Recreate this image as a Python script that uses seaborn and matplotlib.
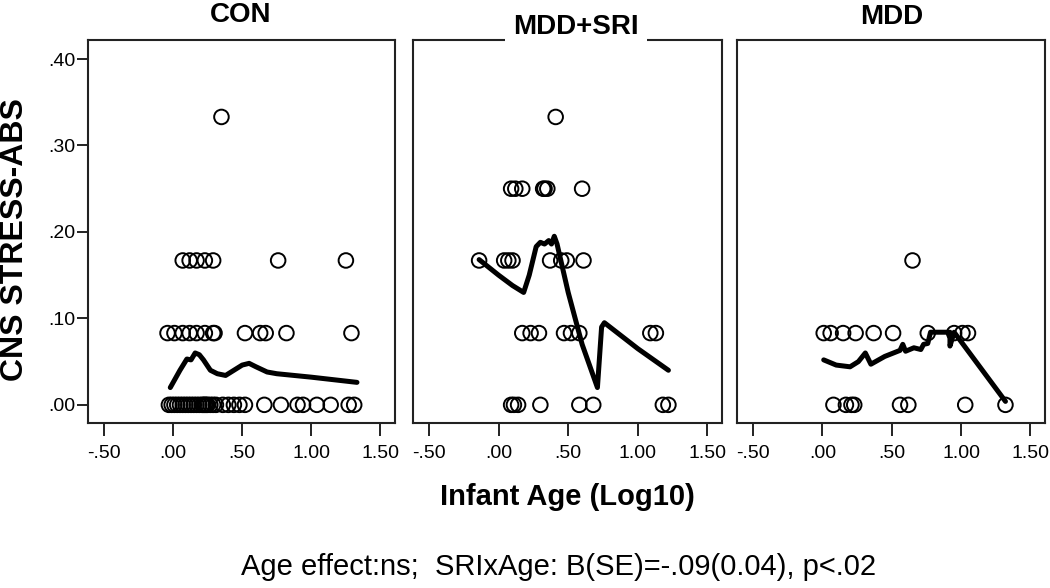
import matplotlib
matplotlib.use("Agg")
import matplotlib.pyplot as plt
import numpy as np
import pandas as pd
import seaborn as sns

# --- Data (infant age in log10, CNS stress-abs score) ---

GROUPS = ["CON", "MDD+SRI", "MDD"]

# CON: ages of the infants at each stress level
con_000 = [-0.03, -0.01, 0.01, 0.03, 0.05, 0.07, 0.09, 0.11, 0.13, 0.15, 0.17,
           0.19, 0.21, 0.22, 0.23, 0.24, 0.25, 0.27, 0.29, 0.31, 0.36, 0.40,
           0.44, 0.48, 0.52, 0.66, 0.78, 0.90, 0.94, 1.04, 1.14, 1.27, 1.31]
con_083 = [-0.04, 0.01, 0.07, 0.12, 0.17, 0.23, 0.29, 0.30, 0.52, 0.63, 0.67,
           0.82, 1.29]
con_167 = [0.07, 0.12, 0.17, 0.23, 0.29, 0.76, 1.25]
con_333 = [0.35]

# MDD+SRI
sri_000 = [0.09, 0.11, 0.14, 0.30, 0.58, 0.68, 1.18, 1.22]
sri_083 = [0.17, 0.23, 0.29, 0.47, 0.52, 0.58, 1.09, 1.13]
sri_167 = [-0.14, 0.04, 0.07, 0.10, 0.37, 0.45, 0.49, 0.61]
sri_250 = [0.09, 0.12, 0.17, 0.32, 0.33, 0.35, 0.60]
sri_333 = [0.41]

# MDD
mdd_000 = [0.08, 0.17, 0.21, 0.23, 0.56, 0.62, 1.03, 1.32]
mdd_083 = [0.01, 0.06, 0.15, 0.24, 0.37, 0.51, 0.76, 0.95, 1.01, 1.05]
mdd_167 = [0.65]

# Loess-style fit lines (vertices in drawing order)
con_fit_x = [-0.02, 0.05, 0.10, 0.13, 0.16, 0.19, 0.22, 0.27, 0.32, 0.38, 0.44,
             0.50, 0.55, 0.60, 0.68, 0.75, 1.00, 1.33]
con_fit_y = [0.020, 0.040, 0.053, 0.052, 0.060, 0.058, 0.052, 0.040, 0.036,
             0.034, 0.040, 0.046, 0.048, 0.044, 0.038, 0.036, 0.032, 0.026]

sri_fit_x = [-0.14, 0.00, 0.10, 0.18, 0.22, 0.27, 0.30, 0.33, 0.36, 0.38, 0.40,
             0.42, 0.50, 0.60, 0.71, 0.74, 0.76, 1.00, 1.22]
sri_fit_y = [0.168, 0.150, 0.138, 0.130, 0.150, 0.183, 0.188, 0.186, 0.190,
             0.186, 0.195, 0.186, 0.130, 0.070, 0.020, 0.090, 0.095, 0.065, 0.040]

mdd_fit_x = [0.01, 0.10, 0.20, 0.26, 0.31, 0.35, 0.45, 0.56, 0.58, 0.60, 0.66,
             0.71, 0.73, 0.76, 0.78, 0.92, 0.92, 0.95, 1.32]
mdd_fit_y = [0.052, 0.046, 0.044, 0.050, 0.060, 0.047, 0.056, 0.063, 0.070,
             0.062, 0.066, 0.064, 0.070, 0.071, 0.084, 0.084, 0.068, 0.084, 0.004]

X_TICKS = [-0.5, 0.0, 0.5, 1.0, 1.5]
X_TICK_LABELS = ["-.50", ".00", ".50", "1.00", "1.50"]
Y_TICKS = [0.0, 0.1, 0.2, 0.3, 0.4]
Y_TICK_LABELS = [".00", ".10", ".20", ".30", ".40"]


def build_points(group, levels):
    """Turn {stress level: [ages]} into long-form rows."""
    rows = []
    for stress, ages in levels.items():
        for age in ages:
            rows.append({"group": group, "age": age, "stress": stress})
    return rows


rows = []
rows += build_points("CON", {0.0: con_000, 0.083: con_083, 0.167: con_167, 0.333: con_333})
rows += build_points("MDD+SRI", {0.0: sri_000, 0.083: sri_083, 0.167: sri_167,
                                 0.25: sri_250, 0.333: sri_333})
rows += build_points("MDD", {0.0: mdd_000, 0.083: mdd_083, 0.167: mdd_167})
df_points = pd.DataFrame(rows)

fits = {
    "CON": (con_fit_x, con_fit_y),
    "MDD+SRI": (sri_fit_x, sri_fit_y),
    "MDD": (mdd_fit_x, mdd_fit_y),
}

# --- Figure ---
sns.set_style("white")
plt.rcParams["font.family"] = ["Liberation Sans", "DejaVu Sans"]
plt.rcParams["text.color"] = "black"
plt.rcParams["axes.labelcolor"] = "black"

W, H = 1050, 588
fig = plt.figure(figsize=(W / 100, H / 100), dpi=100)

# panel boxes in pixels (left, right), shared top/bottom
panel_px = [(88, 395), (413, 722), (737, 1045)]
top_px, bottom_px = 40, 423

for i, group in enumerate(GROUPS):
    left, right = panel_px[i]
    ax = fig.add_axes([left / W, 1 - bottom_px / H, (right - left) / W,
                       (bottom_px - top_px) / H])

    sub = df_points[df_points["group"] == group]
    sns.scatterplot(data=sub, x="age", y="stress", ax=ax, marker="o", s=110,
                    facecolor="none", edgecolor="black", linewidth=1.4,
                    legend=False, zorder=3)
    fx, fy = fits[group]
    sns.lineplot(x=fx, y=fy, ax=ax, color="black", linewidth=3.6,
                 sort=False, estimator=None, zorder=4)

    ax.set_xlim(-0.615, 1.605)
    ax.set_ylim(-0.021, 0.422)
    ax.set_xticks(X_TICKS)
    ax.set_xticklabels(X_TICK_LABELS)
    ax.tick_params(axis="x", bottom=True, direction="out", length=9.5,
                   width=1.4, pad=6, labelsize=14, colors="#222222",
                   labelcolor="black")
    if i == 0:
        ax.set_yticks(Y_TICKS)
        ax.set_yticklabels(Y_TICK_LABELS)
        ax.tick_params(axis="y", left=True, direction="out", length=8,
                       width=1.4, pad=1, labelsize=14, colors="#222222",
                       labelcolor="black")
    else:
        ax.set_yticks([])
    ax.set_xlabel("")
    ax.set_ylabel("")
    for sp in ax.spines.values():
        sp.set_visible(True)
        sp.set_color("#222222")
        sp.set_linewidth(1.5)

# panel titles
fig.text(241 / W, 1 - 15 / H, "CON", ha="center", va="center",
         fontsize=20, fontweight="bold")
fig.text(576 / W, 1 - 27 / H, "MDD+SRI", ha="center", va="center",
         fontsize=20, fontweight="bold",
         bbox=dict(facecolor="white", edgecolor="none", pad=6))
fig.text(892 / W, 1 - 17 / H, "MDD", ha="center", va="center",
         fontsize=20, fontweight="bold")

# axis labels and note
fig.text(15 / W, 1 - 240 / H, "CNS STRESS-ABS", rotation=90, ha="center",
         va="center", fontsize=23, fontweight="bold")
fig.text(567 / W, 1 - 497 / H, "Infant Age (Log10)", ha="center",
         va="center", fontsize=21, fontweight="bold")
fig.text(559 / W, 1 - 567 / H,
         "Age effect:ns;  SRIxAge: B(SE)=-.09(0.04), p<.02",
         ha="center", va="center", fontsize=21)

fig.savefig("out.png", dpi=100, facecolor="white")
